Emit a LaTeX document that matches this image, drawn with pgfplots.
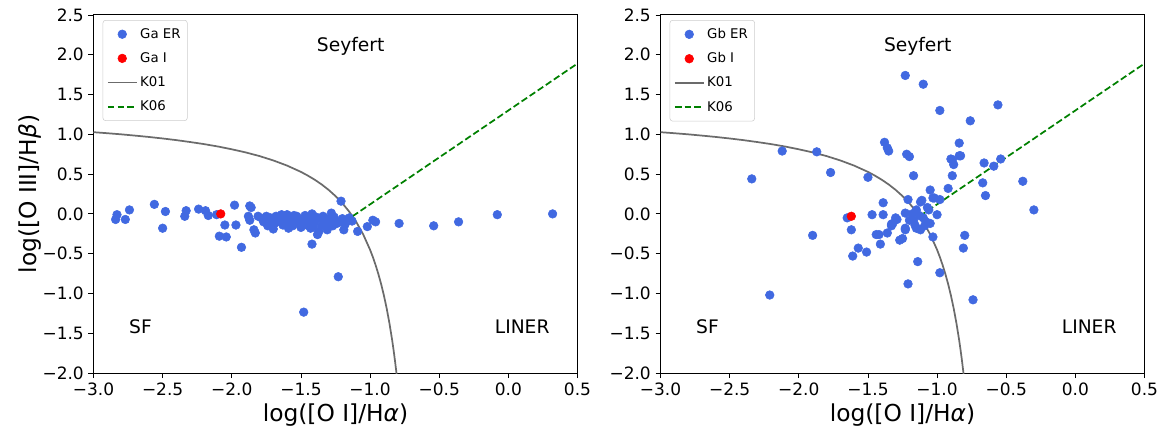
\documentclass[border=0pt]{standalone}
\usepackage{fontspec}
\setmainfont{DejaVu Sans}
\usepackage{pgfplots}
\pgfplotsset{compat=1.18}

\definecolor{erblue}{HTML}{4169E1}
\definecolor{k01gray}{HTML}{6B6B6B}
\definecolor{k06green}{HTML}{008000}
\definecolor{legframe}{HTML}{CCCCCC}

\pgfplotsset{
 bpt/.style={
  width=363pt, height=268.5pt, scale only axis,
  xmin=-3, xmax=0.5, ymin=-2, ymax=2.5,
  xtick={-3,-2.5,-2,-1.5,-1,-0.5,0,0.5},
  ytick={-2,-1.5,-1,-0.5,0,0.5,1,1.5,2,2.5},
  xticklabels={−3.0,−2.5,−2.0,−1.5,−1.0,−0.5,0.0,0.5},
  yticklabels={−2.0,−1.5,−1.0,−0.5,0.0,0.5,1.0,1.5,2.0,2.5},
  tick align=outside, tick pos=left, major tick length=3.75pt,
  every tick/.style={black, line width=0.6pt},
  axis line style={black, line width=0.75pt},
  ticklabel style={font=\fontsize{12.75}{15}\selectfont},
  xlabel={log([O I]/H\textit{α})},
  every axis x label/.style={at={(axis description cs:0.5,-0.1173)}, anchor=center, font=\fontsize{17.5}{21}\selectfont},
  legend style={at={(0.019,0.986)}, anchor=north west, draw=legframe, rounded corners=2pt,
    font=\fontsize{10}{12}\selectfont, fill=white,
    cells={anchor=west}, row sep=5.2pt, inner ysep=4pt, inner xsep=3pt},
  legend image code/.code={\draw[mark repeat=2,mark phase=2,#1] plot coordinates {(0cm,0cm) (0.38cm,0cm) (0.76cm,0cm)};},
  ernode/.style={only marks, mark=*, mark size=3.25pt, color=erblue, mark options={draw=erblue, fill=erblue}},
  inode/.style={only marks, mark=*, mark size=3.25pt, color=red, mark options={draw=red, fill=red}},
  k01/.style={k01gray, line width=1.3pt, no marks},
  k06/.style={k06green, line width=1.3pt, dash pattern=on 5pt off 2.3pt, no marks},
 }
}

\pgfplotstableread{
x y
-2.84 -0.07
-2.83 -0.01
-2.77 -0.07
-2.74 0.05
-2.56 0.12
-2.50 -0.18
-2.48 0.03
-2.34 -0.03
-2.33 0.04
-2.24 0.06
-2.19 0.04
-2.17 -0.02
-2.11 -0.01
-2.05 -0.14
-2.09 -0.28
-2.04 -0.29
-1.98 0.11
-1.97 -0.14
-1.93 -0.42
-1.87 0.10
-1.86 0.08
-1.88 -0.03
-1.84 -0.20
-1.83 -0.24
-1.87 -0.08
-1.81 -0.03
-1.78 -0.06
-1.77 -0.10
-1.74 -0.15
-1.75 -0.03
-1.72 -0.05
-1.71 -0.08
-1.70 -0.19
-1.69 -0.12
-1.68 -0.03
-1.66 -0.07
-1.65 -0.10
-1.64 -0.01
-1.63 -0.14
-1.62 -0.06
-1.60 -0.01
-1.58 -0.12
-1.59 -0.18
-1.57 -0.05
-1.56 -0.15
-1.55 -0.08
-1.55 -0.02
-1.53 -0.03
-1.52 -0.07
-1.51 -0.12
-1.50 -0.17
-1.48 -0.08
-1.47 -0.02
-1.46 -0.14
-1.45 -0.10
-1.44 -0.05
-1.43 -0.18
-1.42 0.00
-1.41 -0.16
-1.42 -0.38
-1.40 -0.10
-1.39 -0.04
-1.37 -0.22
-1.38 -0.26
-1.36 -0.06
-1.35 -0.15
-1.34 -0.03
-1.33 -0.12
-1.32 -0.06
-1.31 -0.20
-1.30 -0.08
-1.29 -0.12
-1.28 0.01
-1.27 -0.15
-1.26 -0.04
-1.24 -0.12
-1.22 -0.10
-1.21 0.16
-1.19 -0.20
-1.20 -0.06
-1.18 -0.13
-1.15 -0.05
-1.13 -0.09
-1.09 -0.22
-1.02 -0.16
-0.98 -0.08
-0.96 -0.10
-0.79 -0.12
-0.54 -0.15
-0.36 -0.10
-0.08 -0.01
0.32 0.00
-1.23 -0.79
-1.48 -1.235
}\GaER

\pgfplotstableread{
x y
-2.08 0.00
}\GaI

\pgfplotstableread{
x y
-2.34 0.44
-2.21 -1.02
-2.12 0.79
-1.90 -0.27
-1.87 0.78
-1.77 0.52
-1.65 -0.05
-1.62 -0.20
-1.61 -0.53
-1.57 -0.43
-1.51 -0.48
-1.50 0.46
-1.47 -0.01
-1.44 -0.26
-1.42 -0.26
-1.41 -0.38
-1.39 0.14
-1.39 -0.01
-1.38 0.90
-1.36 0.83
-1.35 0.79
-1.36 -0.24
-1.33 -0.13
-1.33 -0.15
-1.32 -0.12
-1.30 -0.05
-1.29 -0.07
-1.27 -0.33
-1.25 -0.31
-1.23 1.74
-1.23 0.01
-1.23 -0.18
-1.23 -0.20
-1.22 0.75
-1.20 0.72
-1.21 0.18
-1.21 -0.88
-1.20 -0.08
-1.17 0.48
-1.17 -0.08
-1.16 -0.14
-1.15 -0.18
-1.14 -0.60
-1.12 0.15
-1.12 -0.20
-1.11 0.17
-1.10 1.63
-1.10 -0.05
-1.13 -0.02
-1.18 0.00
-1.07 0.08
-1.15 0.05
-1.05 -0.12
-1.09 -0.15
-1.08 -0.10
-1.06 0.05
-1.05 0.30
-1.03 0.20
-1.03 -0.29
-1.02 0.20
-1.00 -0.01
-0.98 1.30
-0.98 0.18
-0.98 -0.74
-0.92 0.32
-0.90 0.69
-0.89 0.48
-0.88 0.62
-0.89 0.68
-0.84 0.89
-0.84 0.73
-0.83 0.73
-0.81 -0.43
-0.80 -0.27
-0.76 1.17
-0.74 -1.08
-0.67 0.39
-0.66 0.64
-0.65 0.23
-0.59 0.60
-0.56 1.37
-0.54 0.69
-0.38 0.41
-0.30 0.05
}\GbER

\pgfplotstableread{
x y
-1.62 -0.03
}\GbI

\pgfplotstableread{
x y
-3.0 1.027
-2.9 1.014
-2.8 1.000
-2.7 0.984
-2.6 0.967
-2.5 0.948
-2.4 0.927
-2.3 0.903
-2.2 0.877
-2.1 0.847
-2.0 0.812
-1.9 0.773
-1.8 0.727
-1.7 0.672
-1.6 0.607
-1.5 0.528
-1.45 0.481
-1.4 0.429
-1.35 0.370
-1.3 0.302
-1.25 0.224
-1.2 0.133
-1.15 0.026
-1.1 -0.101
-1.05 -0.257
-1.0 -0.451
-0.98 -0.542
-0.96 -0.643
-0.94 -0.756
-0.92 -0.882
-0.90 -1.025
-0.88 -1.187
-0.86 -1.374
-0.84 -1.590
-0.83 -1.712
-0.82 -1.844
-0.81 -1.988
-0.80 -2.146
}\Kone

\pgfplotstableread{
x y
-1.127 -0.030
0.5 1.890
}\Ksix

\begin{document}
\begin{tikzpicture}
\begin{axis}[bpt,
  ylabel={log([O III]/H\textit{β})},
  every axis y label/.style={at={(axis description cs:-0.131,0.5)}, rotate=90, anchor=center, font=\fontsize{17.5}{21}\selectfont}]
\addplot[ernode] table {\GaER};
\addplot[inode] table {\GaI};
\addplot[k01] table {\Kone};
\addplot[k06] table {\Ksix};
\legend{Ga ER, Ga I, K01, K06}
\node[font=\fontsize{14}{17}\selectfont] at (axis cs:-1.14,2.10) {Seyfert};
\node[font=\fontsize{14}{17}\selectfont] at (axis cs:-2.66,-1.42) {SF};
\node[font=\fontsize{14}{17}\selectfont] at (axis cs:0.10,-1.42) {LINER};
\end{axis}
\begin{axis}[bpt, at={(425.25pt,0pt)}]
\addplot[ernode] table {\GbER};
\addplot[inode] table {\GbI};
\addplot[k01] table {\Kone};
\addplot[k06] table {\Ksix};
\legend{Gb ER, Gb I, K01, K06}
\node[font=\fontsize{14}{17}\selectfont] at (axis cs:-1.14,2.10) {Seyfert};
\node[font=\fontsize{14}{17}\selectfont] at (axis cs:-2.66,-1.42) {SF};
\node[font=\fontsize{14}{17}\selectfont] at (axis cs:0.10,-1.42) {LINER};
\end{axis}
\pgfresetboundingbox
\path[use as bounding box] (-70.125pt,-44.25pt) rectangle (805.125pt,279.75pt);
\end{tikzpicture}
\end{document}
